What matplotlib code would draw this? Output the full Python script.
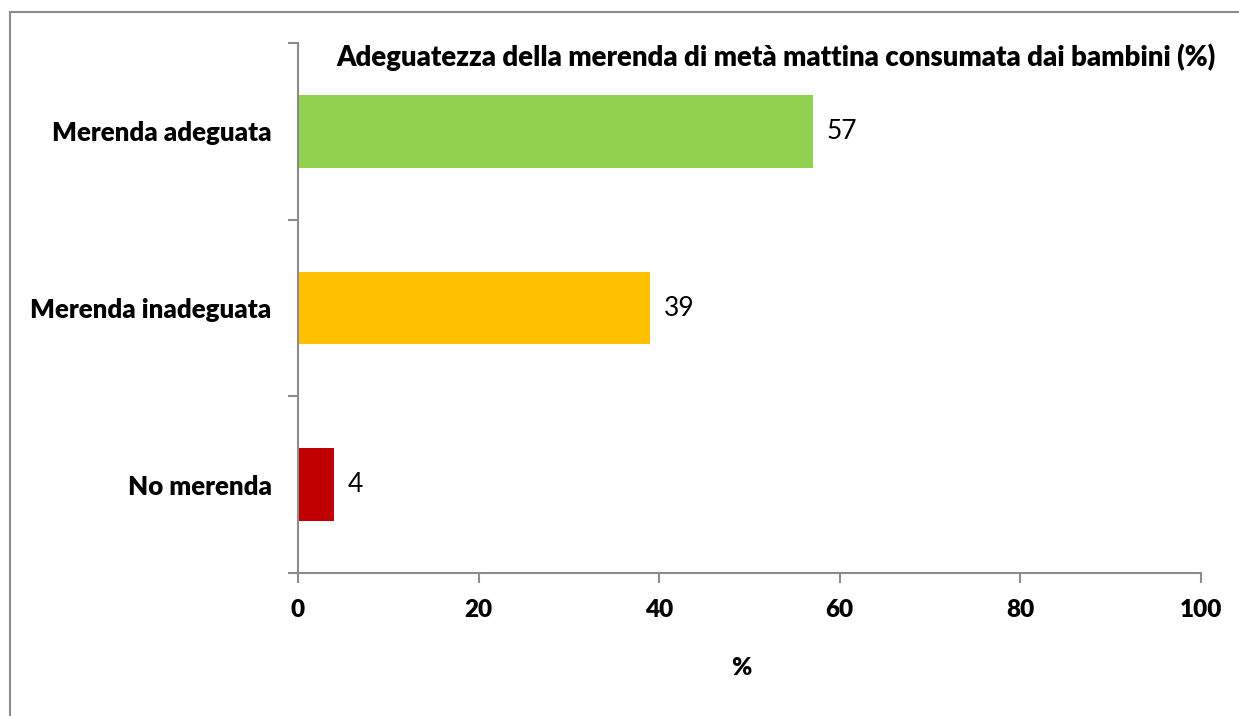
import matplotlib
matplotlib.use("Agg")
import matplotlib.pyplot as plt
from matplotlib.patches import Rectangle

categories = ["Merenda adeguata", "Merenda inadeguata", "No merenda"]
values = [57, 39, 4]
colors = ["#92D050", "#FFC000", "#C00000"]
xticks = [0, 20, 40, 60, 80, 100]
title = "Adeguatezza della merenda di metà mattina consumata dai bambini (%)"
xlabel = "%"

plt.rcParams['font.family'] = ['Lato', 'DejaVu Sans']

W, H = 1239, 716
fig = plt.figure(figsize=(W / 100, H / 100), dpi=100)
fig.patch.set_facecolor("white")

# outer chart border (cropped at right and bottom)
fig.add_artist(Rectangle((9.5 / W, -0.1), 1.2, 1.1 - 12.5 / H, transform=fig.transFigure,
                         fill=False, edgecolor="#8c8c8c", linewidth=1.5))

ax = fig.add_axes([298 / W, 1 - 573 / H, (1201 - 298) / W, (573 - 43) / H])

ypos = list(range(len(categories)))
ax.barh(ypos, values, height=0.41, color=colors, zorder=2)
ax.set_ylim(len(categories) - 0.5, -0.5)
ax.set_xlim(0, 100)

for y, v in zip(ypos, values):
    ax.annotate(f"{v}", xy=(v, y), xytext=(10, 0), textcoords="offset points",
                va="center", ha="left", fontsize=19, color="black")

BW = "heavy"
ax.set_xticks(xticks)
ax.set_xticklabels([str(t) for t in xticks], fontsize=17.5, fontweight=BW)
ax.set_yticks([-0.5, 0.5, 1.5, 2.5])
ax.set_yticklabels([])
ax.set_yticks(ypos, minor=True)
ax.set_yticklabels(categories, minor=True, fontsize=18.6, fontweight=BW)
ax.tick_params(axis="y", which="minor", length=0, pad=19)
ax.tick_params(axis="y", which="major", length=7, width=1.5, color="#8c8c8c", direction="out")
ax.tick_params(axis="x", length=7, width=1.5, color="#8c8c8c", direction="out", pad=12)

for s in ["top", "right"]:
    ax.spines[s].set_visible(False)
for s in ["left", "bottom"]:
    ax.spines[s].set_color("#8c8c8c")
    ax.spines[s].set_linewidth(1.5)

ax.set_xlabel(xlabel, fontsize=17.5, fontweight=BW)
ax.xaxis.set_label_coords((741 - 298) / 903, (573 - 657) / 530)
fig.text(776 / W, 1 - 57 / H, title, ha="center", va="center", fontsize=19.8, fontweight=BW)

fig.savefig("out.png", dpi=100)
